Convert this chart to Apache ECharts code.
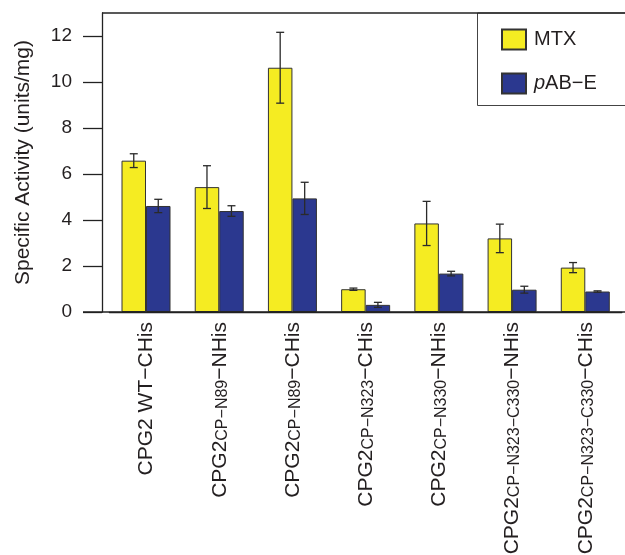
<!DOCTYPE html>
<html><head><meta charset="utf-8">
<script src="https://cdn.jsdelivr.net/npm/echarts@6/dist/echarts.min.js"></script>
<style>html,body{margin:0;padding:0;background:#fff}#c{width:625px;height:555px}</style>
</head><body><div id="c"></div>
<script>
// Category labels: [main, subscript, suffix]
const categories = [
  ['CPG2 WT', '', '\u2212CHis'],
  ['CPG2', 'CP\u2212N89', '\u2212NHis'],
  ['CPG2', 'CP\u2212N89', '\u2212CHis'],
  ['CPG2', 'CP\u2212N323', '\u2212CHis'],
  ['CPG2', 'CP\u2212N330', '\u2212NHis'],
  ['CPG2', 'CP\u2212N323\u2212C330', '\u2212NHis'],
  ['CPG2', 'CP\u2212N323\u2212C330', '\u2212CHis']
];
const mtx      = [6.58, 5.43, 10.62, 0.99, 3.85, 3.20, 1.93];
const mtxErr   = [0.30, 0.93, 1.54, 0.05, 0.96, 0.62, 0.22];
const pabe     = [4.61, 4.39, 4.94, 0.31, 1.67, 0.97, 0.89];
const pabeErr  = [0.29, 0.23, 0.70, 0.11, 0.10, 0.15, 0.03];
const yTicks   = [0, 2, 4, 6, 8, 10, 12];
const seriesNames = ['MTX', 'pAB\u2212E'];

const FONT = '"Liberation Sans", Arial, Helvetica, sans-serif';
const TXT = '#231f20';
const BARW = 24.5;
const catKeys = categories.map((c, i) => String(i));

function errSeries(vals, errs, dx) {
  return {
    type: 'custom',
    silent: true,
    z: 5,
    data: vals.map((v, i) => [i, v - errs[i], v + errs[i]]),
    renderItem: function (params, api) {
      const lo = api.coord([api.value(0), api.value(1)]);
      const hi = api.coord([api.value(0), api.value(2)]);
      const x = lo[0] + dx;
      const cap = 4;
      const st = { stroke: '#2a2a2a', lineWidth: 1.3 };
      return { type: 'group', children: [
        { type: 'line', shape: { x1: x, y1: lo[1], x2: x, y2: hi[1] }, style: st },
        { type: 'line', shape: { x1: x - cap, y1: lo[1], x2: x + cap, y2: lo[1] }, style: st },
        { type: 'line', shape: { x1: x - cap, y1: hi[1], x2: x + cap, y2: hi[1] }, style: st }
      ]};
    }
  };
}

const chart = echarts.init(document.getElementById('c'));
chart.setOption({
  animation: false,
  textStyle: { fontFamily: FONT },
  grid: { left: 109.4, top: 13, width: 512.5, height: 299, containLabel: false, outerBoundsMode: 'none' },
  legend: {
    orient: 'vertical',
    left: 477.5, top: 13,
    padding: [15.5, 60, 11, 23.5],
    itemGap: 22,
    itemWidth: 24, itemHeight: 20,
    icon: 'rect',
    borderColor: '#444', borderWidth: 1,
    backgroundColor: '#fff',
    data: seriesNames,
    formatter: function (n) { return n === 'MTX' ? '{r|MTX}' : '{i|p}{r|AB\u2212E}'; },
    textStyle: {
      fontFamily: FONT, fontSize: 20, color: TXT, padding: [0, 0, 0, 3],
      rich: {
        r: { fontFamily: FONT, fontSize: 20, color: TXT },
        i: { fontFamily: FONT, fontSize: 20, color: TXT, fontStyle: 'italic' }
      }
    }
  },
  xAxis: {
    type: 'category',
    data: catKeys,
    axisLine: { show: true, lineStyle: { color: '#222', width: 1.3 } },
    axisTick: { show: false },
    axisLabel: {
      rotate: 90,
      margin: 10,
      interval: 0,
      formatter: function (v) {
        const c = categories[+v];
        let s = '{m|' + c[0] + '}';
        if (c[1]) s += '{s|' + c[1] + '}';
        s += '{m|' + c[2] + '}';
        return s;
      },
      rich: {
        m: { fontFamily: FONT, fontSize: 21, color: TXT, lineHeight: 22, verticalAlign: 'bottom' },
        s: { fontFamily: FONT, fontSize: 16, color: TXT, lineHeight: 15, verticalAlign: 'bottom' }
      }
    }
  },
  yAxis: {
    type: 'value',
    min: 0, max: 13,
    offset: 7.4,
    name: 'Specific Activity (units/mg)',
    nameLocation: 'middle',
    nameGap: 68,
    nameTextStyle: { fontFamily: FONT, fontSize: 21, color: TXT },
    splitLine: { show: false },
    axisLine: { show: true, lineStyle: { color: '#222', width: 1.3 } },
    axisTick: { show: true, length: 19, customValues: yTicks, lineStyle: { color: '#222', width: 1.3 } },
    axisLabel: { customValues: yTicks, margin: 30, fontFamily: FONT, fontSize: 19, color: TXT }
  },
  graphic: [
    { type: 'line', shape: { x1: 102, y1: 13, x2: 625, y2: 13 }, style: { stroke: '#222', lineWidth: 1.3 }, z: 10 },
    { type: 'line', shape: { x1: 83, y1: 312, x2: 625, y2: 312 }, style: { stroke: '#222', lineWidth: 1.3 }, z: 10 }
  ],
  series: [
    { name: seriesNames[0], type: 'bar', data: mtx, barWidth: BARW, barGap: '0%',
      itemStyle: { color: '#f5ec22', borderColor: '#333', borderWidth: 1 } },
    { name: seriesNames[1], type: 'bar', data: pabe, barWidth: BARW, barGap: '0%',
      itemStyle: { color: '#2b388f', borderColor: '#333', borderWidth: 1 } },
    errSeries(mtx, mtxErr, -BARW / 2),
    errSeries(pabe, pabeErr, BARW / 2)
  ]
});
</script></body></html>
